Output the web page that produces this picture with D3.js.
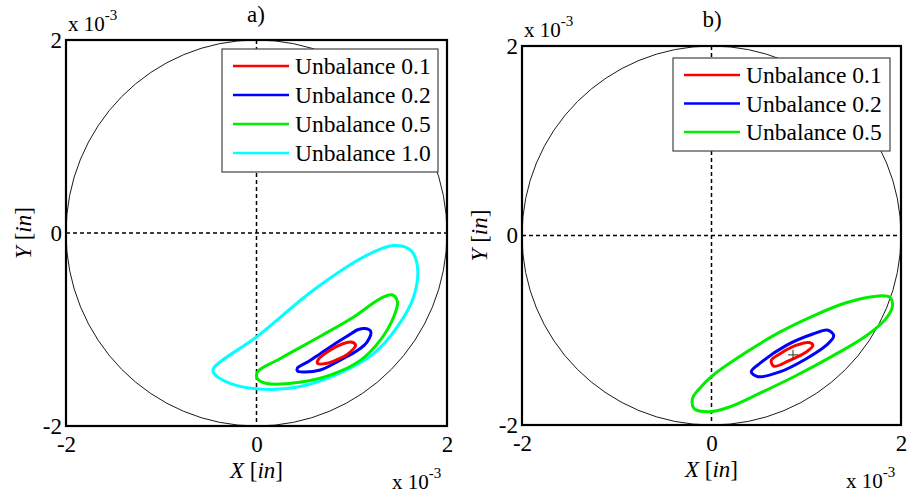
<!DOCTYPE html>
<html>
<head>
<meta charset="utf-8">
<script src="https://cdn.jsdelivr.net/npm/d3@7"></script>
<style>
  body { margin: 0; background: #fff; }
  svg text { font-family: "Liberation Serif", "Times New Roman", serif; fill: #000; }
</style>
</head>
<body>
<div id="chart"></div>
<script>
// orbit points, units of 1e-3 in : [X, Y]
var aUnb01 = [[0.64,-1.35],[0.65,-1.31],[0.78,-1.21],[0.90,-1.15],[0.99,-1.13],[1.04,-1.16],[0.95,-1.26],[0.85,-1.31],[0.74,-1.35]];
var aUnb02 = [[0.43,-1.40],[0.55,-1.33],[0.67,-1.25],[0.82,-1.15],[0.95,-1.07],[1.07,-1.00],[1.14,-0.99],[1.20,-1.02],[1.16,-1.13],[1.07,-1.21],[0.95,-1.28],[0.80,-1.36],[0.67,-1.42],[0.50,-1.44],[0.43,-1.43]];
var aUnb05 = [[0.01,-1.44],[0.25,-1.30],[0.67,-1.07],[1.02,-0.87],[1.30,-0.68],[1.42,-0.64],[1.48,-0.71],[1.44,-0.87],[1.30,-1.11],[1.09,-1.32],[0.78,-1.47],[0.43,-1.55],[0.11,-1.56],[0.01,-1.51]];
var aUnb10 = [[-0.45,-1.40],[0.01,-1.07],[0.60,-0.59],[1.16,-0.23],[1.44,-0.13],[1.62,-0.18],[1.69,-0.35],[1.65,-0.66],[1.48,-0.97],[1.23,-1.25],[0.88,-1.45],[0.46,-1.59],[0.08,-1.62],[-0.27,-1.56],[-0.45,-1.45]];

var bUnb01 = [[0.63,-1.32],[0.72,-1.25],[0.89,-1.16],[1.03,-1.13],[1.07,-1.16],[1.00,-1.23],[0.82,-1.32],[0.66,-1.38]];
var bUnb02 = [[0.42,-1.44],[0.51,-1.35],[0.79,-1.16],[1.07,-1.04],[1.23,-1.00],[1.29,-1.06],[1.21,-1.16],[1.00,-1.30],[0.72,-1.44],[0.49,-1.49]];
var bUnb05 = [[-0.20,-1.72],[-0.13,-1.62],[0.01,-1.48],[0.37,-1.23],[0.72,-1.02],[1.07,-0.85],[1.42,-0.71],[1.74,-0.64],[1.88,-0.65],[1.91,-0.74],[1.84,-0.88],[1.63,-1.06],[1.28,-1.27],[0.89,-1.48],[0.54,-1.65],[0.19,-1.81],[-0.02,-1.86],[-0.18,-1.83]];
var bCenter = [0.86, -1.26];

var clearance = 2;            // bearing clearance circle radius
var ticks = [-2, 0, 2];
var legendA = ["Unbalance 0.1", "Unbalance 0.2", "Unbalance 0.5", "Unbalance 1.0"];
var legendB = ["Unbalance 0.1", "Unbalance 0.2", "Unbalance 0.5"];
var colors = ["#ff0000", "#0000ff", "#00ee00", "#00ffff"];

var svg = d3.select("#chart").append("svg")
    .attr("width", 907)
    .attr("height", 495);

var fs = 23;

function panel(opt) {
  var x = d3.scaleLinear().domain([-2, 2]).range([opt.left, opt.right]);
  var y = d3.scaleLinear().domain([-2, 2]).range([opt.bottom, opt.top]);
  var g = svg.append("g");

  // clearance circle
  g.append("ellipse")
      .attr("cx", x(0)).attr("cy", y(0))
      .attr("rx", x(clearance) - x(0)).attr("ry", y(0) - y(clearance))
      .attr("fill", "none").attr("stroke", "#000").attr("stroke-width", 0.9);

  // zero lines
  g.append("line")
      .attr("x1", x(0)).attr("x2", x(0)).attr("y1", y(2)).attr("y2", y(-2))
      .attr("stroke", "#000").attr("stroke-width", 1.5).attr("stroke-dasharray", "4,3");
  g.append("line")
      .attr("x1", x(-2)).attr("x2", x(2)).attr("y1", y(0)).attr("y2", y(0))
      .attr("stroke", "#000").attr("stroke-width", 1.5).attr("stroke-dasharray", "4,3");

  var line = d3.line()
      .x(function(d) { return x(d[0]); })
      .y(function(d) { return y(d[1]); })
      .curve(d3.curveCatmullRomClosed.alpha(0.5));

  // draw largest first so smaller orbits stay on top
  opt.series.slice().reverse().forEach(function(s, i) {
    var idx = opt.series.length - 1 - i;
    g.append("path")
        .attr("d", line(s))
        .attr("fill", "none")
        .attr("stroke", colors[idx])
        .attr("stroke-width", 3)
        .attr("stroke-linejoin", "round");
  });

  if (opt.center) {
    var cx = x(opt.center[0]), cy = y(opt.center[1]);
    g.append("path")
        .attr("d", "M" + (cx - 5) + "," + cy + "H" + (cx + 5) + "M" + cx + "," + (cy - 5) + "V" + (cy + 5))
        .attr("stroke", "#333").attr("stroke-width", 1);
  }

  // axes, MATLAB-like labels
  var xAxis = d3.axisBottom(x).tickValues(ticks).tickSize(0).tickPadding(10)
      .tickFormat(function(d) { return d < 0 ? "-" + Math.abs(d) : d; });
  var gx = g.append("g").attr("transform", "translate(0," + opt.bottom + ")").call(xAxis);
  gx.select(".domain").remove();
  gx.selectAll("text").attr("font-size", fs).attr("fill", "#000");

  var yAxis = d3.axisLeft(y).tickValues(ticks).tickSize(0).tickPadding(4)
      .tickFormat(function(d) { return d < 0 ? "-" + Math.abs(d) : d; });
  var gy = g.append("g").attr("transform", "translate(" + opt.left + ",0)").call(yAxis);
  gy.select(".domain").remove();
  gy.selectAll("text").attr("font-size", fs).attr("fill", "#000");

  // frame
  g.append("rect")
      .attr("x", opt.left).attr("y", opt.top)
      .attr("width", opt.right - opt.left).attr("height", opt.bottom - opt.top)
      .attr("fill", "none").attr("stroke", "#000").attr("stroke-width", 2.2);

  // exponent labels
  var t1 = g.append("text").attr("x", opt.left + 2).attr("y", opt.top - 9).attr("font-size", 21);
  t1.append("tspan").text("x 10");
  t1.append("tspan").attr("dy", -11).attr("font-size", 15).text("-3");

  var t2 = g.append("text").attr("x", opt.right - 55).attr("y", opt.bottom + 63).attr("font-size", 21);
  t2.append("tspan").text("x 10");
  t2.append("tspan").attr("dy", -11).attr("font-size", 15).text("-3");

  // axis titles
  var xl = g.append("text").attr("x", x(0)).attr("y", opt.bottom + 52)
      .attr("text-anchor", "middle").attr("font-size", fs);
  xl.append("tspan").attr("font-style", "italic").text("X");
  xl.append("tspan").text(" [");
  xl.append("tspan").attr("font-style", "italic").text("in");
  xl.append("tspan").text("]");

  var yl = g.append("text")
      .attr("transform", "translate(" + (opt.left - 35) + "," + y(0) + ") rotate(-90)")
      .attr("text-anchor", "middle").attr("font-size", fs);
  yl.append("tspan").attr("font-style", "italic").text("Y");
  yl.append("tspan").text(" [");
  yl.append("tspan").attr("font-style", "italic").text("in");
  yl.append("tspan").text("]");

  // panel title
  g.append("text").attr("x", opt.titleX).attr("y", opt.titleY)
      .attr("text-anchor", "middle").attr("font-size", fs).text(opt.title);

  // legend
  var L = opt.legend;
  var lg = g.append("g");
  lg.append("rect")
      .attr("x", L.x).attr("y", L.y).attr("width", L.w).attr("height", L.h)
      .attr("fill", "#fff").attr("stroke", "#444").attr("stroke-width", 1.2);
  L.labels.forEach(function(lab, i) {
    var cy = L.y + 17 + i * L.step;
    lg.append("line")
        .attr("x1", L.x + 11).attr("x2", L.x + 67).attr("y1", cy).attr("y2", cy)
        .attr("stroke", colors[i]).attr("stroke-width", 2.5);
    lg.append("text").attr("x", L.x + 73).attr("y", cy + 8)
        .attr("font-size", 23.5).text(lab);
  });
}

panel({
  left: 66, right: 447, top: 40, bottom: 426,
  series: [aUnb01, aUnb02, aUnb05, aUnb10],
  title: "a)", titleX: 256, titleY: 22,
  legend: { x: 222, y: 49, w: 216, h: 123, step: 29, labels: legendA }
});

panel({
  left: 522, right: 901, top: 46, bottom: 425,
  series: [bUnb01, bUnb02, bUnb05],
  center: bCenter,
  title: "b)", titleX: 712, titleY: 27,
  legend: { x: 673, y: 58, w: 217, h: 93, step: 28.5, labels: legendB }
});
</script>
</body>
</html>
